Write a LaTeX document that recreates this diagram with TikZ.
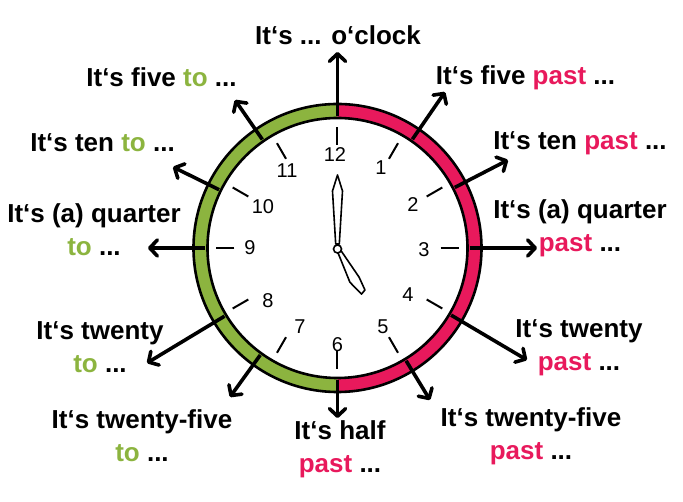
\documentclass[tikz,border=0pt]{standalone}
\usepackage{fontspec}
\setmainfont{Liberation Sans}
\usetikzlibrary{arrows.meta,calc}
\definecolor{cgreen}{HTML}{8CB43F}
\definecolor{cpink}{HTML}{E8195C}
\begin{document}
\begin{tikzpicture}[x=1pt,y=1pt,
  lab/.style={font=\fontsize{26}{33}\selectfont\bfseries, align=center, inner sep=0pt},
  num/.style={font=\fontsize{20}{20}\selectfont, inner sep=0pt},
  arr/.style={line width=3.6pt, -{Straight Barb[length=7.5pt,width=16pt,round]}},
  tickmark/.style={line width=2pt},
  ring/.style={line width=2.6pt},
  hand/.style={line width=1.6pt, fill=white, line join=round},
]
\useasboundingbox (-337.5,-254) rectangle (345.5,248);
\coordinate (c) at (0,0);
% band
\fill[cgreen] (90:144) arc (90:270:144) -- (270:130) arc (270:90:130) -- cycle;
\fill[cpink] (-90:144) arc (-90:90:144) -- (90:130) arc (90:-90:130) -- cycle;
\draw[ring] (c) circle (144);
\draw[ring] (c) circle (130);
% ticks
\foreach \a in {0,30,...,330} \draw[tickmark] (\a:103) -- (\a:121);
% numbers
\node[num] (n12) at (-2.5,93) {12};
\node[num] (n1) at (43.5,80) {1};
\node[num] (n2) at (75.5,43) {2};
\node[num] (n3) at (86.5,-2) {3};
\node[num] (n4) at (70.5,-47) {4};
\node[num] (n5) at (45.5,-79) {5};
\node[num] (n6) at (0,-97) {6};
\node[num] (n7) at (-37.5,-79) {7};
\node[num] (n8) at (-69.5,-53) {8};
\node[num] (n9) at (-87.5,0) {9};
\node[num] (n10) at (-74.5,41) {10};
\node[num] (n11) at (-50.5,77) {11};
% hands
\draw[hand] (-1.8,4) -- (-5,57) -- (0,73) -- (5,57) -- (1.8,4) -- cycle;
\draw[hand, rotate=-61.4] (4,-1.8) -- (36,-5.5) -- (52,-1) -- (50,4) -- (36,5) -- (4,1.8) -- cycle;
\draw[line width=1.6pt, fill=white] (0,-1) circle (4);
% arrows
\foreach \i/\x/\y in {12/0/196, 1/107.5/156, 2/170.5/88, 3/199.5/0, 4/189.5/-112, 5/92.5/-152, 6/0/-170, 7/-107.5/-149, 8/-190.5/-115, 9/-189.5/0, 10/-164.5/81, 11/-102.5/148} {
  \coordinate (t\i) at (\x,\y);
  \coordinate (s\i) at ($(c)!132pt!(t\i)$);
  \draw[arr] (s\i) -- (t\i);
}
% labels
\node[lab] (L12) at (0.5,213) {It‘s ... o‘clock};
\node[lab] (L1) at (188,170) {It‘s five \textcolor{cpink}{past} ...};
\node[lab] (L2) at (242.5,105) {It‘s ten \textcolor{cpink}{past} ...};
\node[lab] (L3) at (242.5,19.5) {It‘s (a) quarter\\\textcolor{cpink}{past} ...};
\node[lab] (L4) at (241.5,-100) {It‘s twenty\\\textcolor{cpink}{past} ...};
\node[lab] (L5) at (193.5,-188) {It‘s twenty-five\\\textcolor{cpink}{past} ...};
\node[lab] (L6) at (2.5,-201) {It‘s half\\\textcolor{cpink}{past} ...};
\node[lab] (L7) at (-195.5,-188) {It‘s twenty-five\\\textcolor{cgreen}{to} ...};
\node[lab] (L8) at (-237.5,-99) {It‘s twenty\\\textcolor{cgreen}{to} ...};
\node[lab] (L9) at (-243.5,18) {It‘s (a) quarter\\\textcolor{cgreen}{to} ...};
\node[lab] (L10) at (-235,105) {It‘s ten \textcolor{cgreen}{to} ...};
\node[lab] (L11) at (-176,171) {It‘s five \textcolor{cgreen}{to} ...};
\end{tikzpicture}
\end{document}
